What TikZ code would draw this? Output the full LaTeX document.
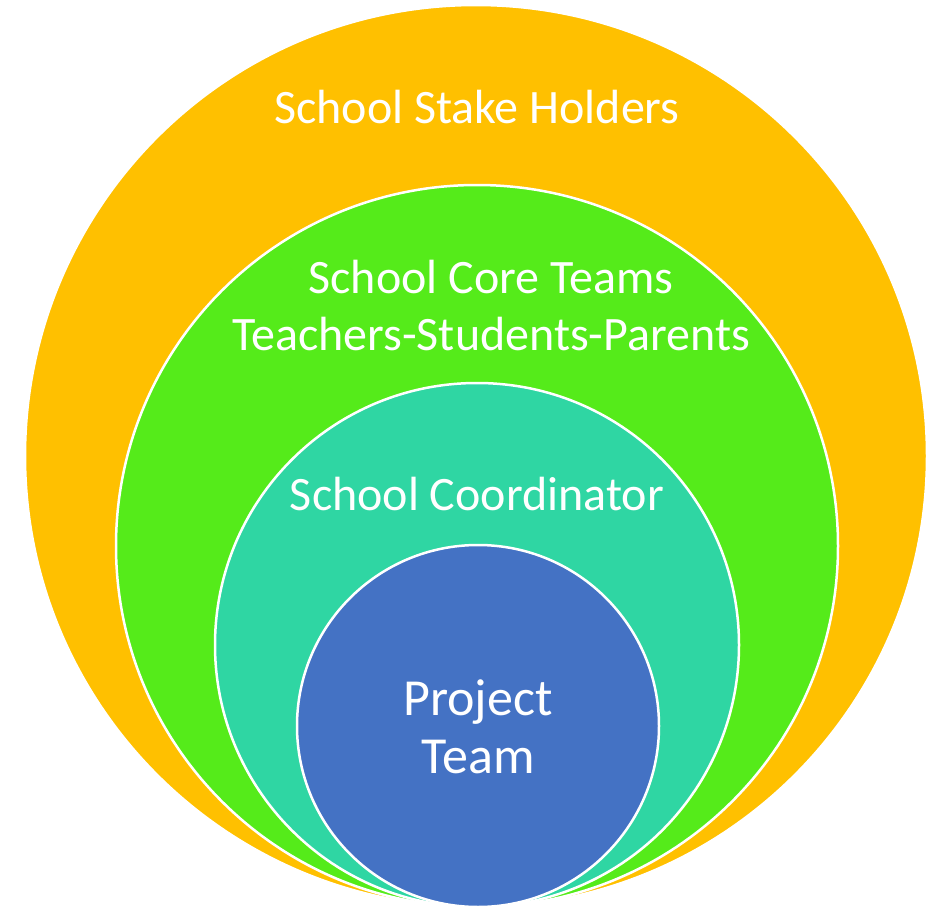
\documentclass[tikz,border=0pt]{standalone}
\usepackage{fontspec}
\setmainfont{Carlito}
\definecolor{ringorange}{HTML}{FFC000}
\definecolor{ringgreen}{HTML}{55EB1A}
\definecolor{ringteal}{HTML}{2FD6A3}
\definecolor{ringblue}{HTML}{4472C4}
\begin{document}
\begin{tikzpicture}[x=1pt,y=-1pt,
  ring/.style={circle, draw=white, line width=2.5pt, inner sep=0pt},
  label/.style={text=white, align=center, inner sep=0pt, anchor=base,
                font=\fontsize{48}{57}\selectfont}]
\useasboundingbox (0,0) rectangle (940,907);
% nested circles, all touching at the bottom
\node[ring, fill=ringorange, minimum size=902pt] (outer) at (476,456) {};
\node[ring, fill=ringgreen,  minimum size=722pt] (core)  at (477,546) {};
\node[ring, fill=ringteal,   minimum size=524pt] (coord) at (477,645) {};
\node[ring, fill=ringblue,   minimum size=362pt] (proj)  at (478,726) {};
% labels
\node[label] (t1) at (477,123) {School Stake Holders};
\node[label] (t2) at (491,293) {School Core Teams};
\node[label] (t3) at (491,350) {Teachers-Students-Parents};
\node[label] (t4) at (477,510) {School Coordinator};
\node[label, font=\fontsize{52}{58}\selectfont] (t5) at (478,715) {Project};
\node[label, font=\fontsize{52}{58}\selectfont] (t6) at (478,773) {Team};
\end{tikzpicture}
\end{document}
